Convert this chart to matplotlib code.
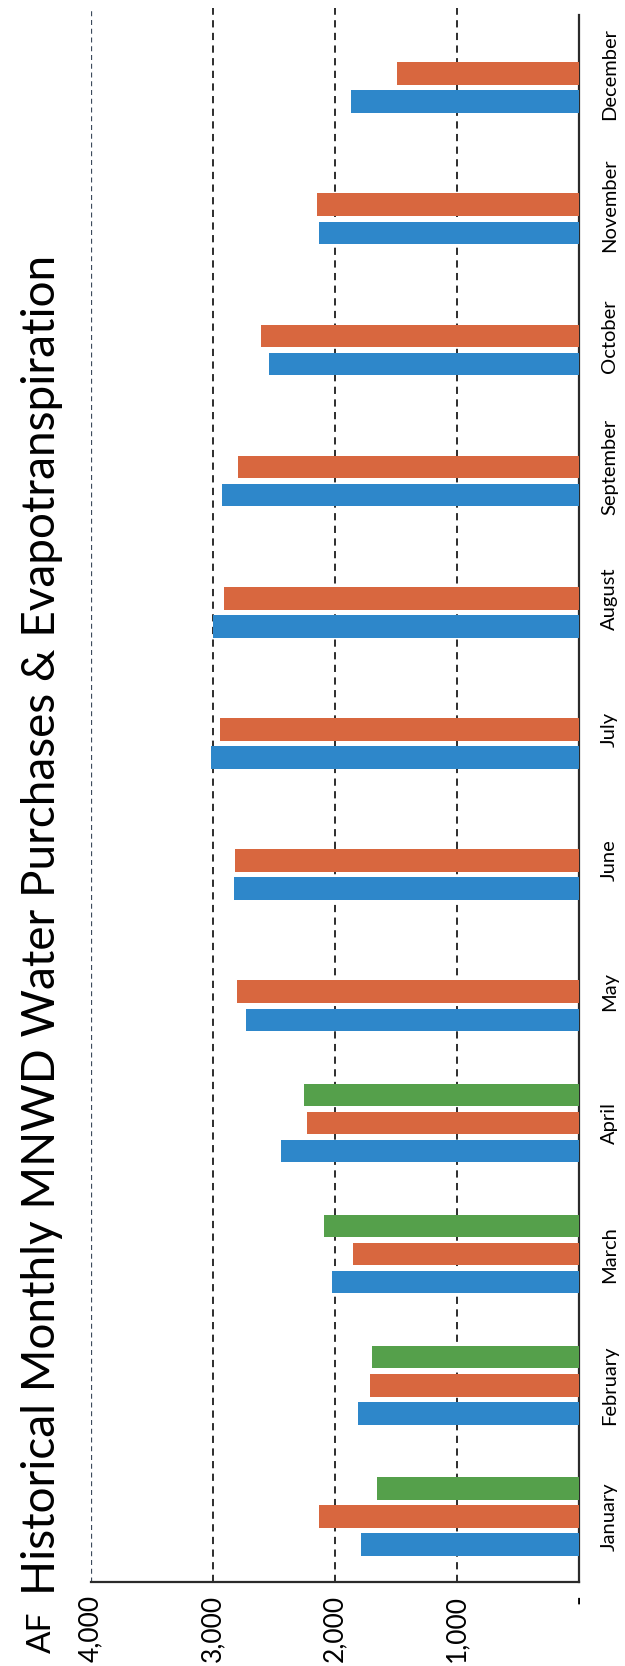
import numpy as np
import matplotlib.pyplot as plt

plt.rcParams['font.family'] = ['Lato', 'DejaVu Sans']

# monthly volumes in acre-feet
months = ['January', 'February', 'March', 'April', 'May', 'June',
          'July', 'August', 'September', 'October', 'November', 'December']
blue_af = [1785, 1808, 2022, 2440, 2731, 2826, 3014, 3000, 2923, 2541, 2130, 1868]
orange_af = [2134, 1712, 1849, 2231, 2807, 2821, 2943, 2910, 2792, 2609, 2145, 1488]
green_af = [1655, 1693, 2088, 2258]

value_ticks = [0, 1000, 2000, 3000, 4000]
value_labels = ['-', '1,000', '2,000', '3,000', '4,000']

title = 'Historical Monthly MNWD Water Purchases & Evapotranspiration'

blue = '#2E87CA'
orange = '#D8673F'
green = '#55A04B'
axis_col = '#2b2b2b'

bar_h = 0.172
step = 0.214

fig = plt.figure(figsize=(6.25, 16.66), dpi=100)
ax = fig.add_axes([0.1456, 0.0504, 0.7808, 0.9448])

pos = np.arange(len(months))
ax.barh(pos - step, blue_af, height=bar_h, color=blue, zorder=3)
ax.barh(pos, orange_af, height=bar_h, color=orange, zorder=3)
ax.barh(pos[:len(green_af)] + step, green_af, height=bar_h, color=green, zorder=3)

ax.set_xlim(4000, 0)
ax.set_ylim(-0.5, 11.5)

# dashed gridlines for the value axis, outer one a bit lighter
for v in value_ticks[1:]:
    if v == 4000:
        ax.axvline(v, color='#3c4a5c', lw=0.9, ls=(0, (4, 3)), zorder=1)
    else:
        ax.axvline(v, color='#1c1c1c', lw=1.3, ls=(0, (4, 3)), zorder=1)

ax.set_xticks(value_ticks)
ax.set_xticklabels(value_labels, rotation=90, fontsize=19, va='top', ha='center')
ax.tick_params(axis='x', length=0, pad=9)

ax.yaxis.tick_right()
ax.set_yticks(pos)
ax.set_yticklabels(months, rotation=90, fontsize=14.5, va='center', ha='left')
ax.tick_params(axis='y', length=0, pad=16)

for s in ['left', 'top']:
    ax.spines[s].set_visible(False)
ax.spines['right'].set_color(axis_col)
ax.spines['right'].set_linewidth(1.6)
ax.spines['right'].set_bounds(-0.5, 11.45)
ax.spines['bottom'].set_color(axis_col)
ax.spines['bottom'].set_linewidth(1.6)

fig.text(42 / 625, 1 - 1595 / 1666, title, rotation=90, fontsize=33,
         ha='center', va='bottom')
fig.text(42 / 625, 1 - 1632 / 1666, 'AF', rotation=90, fontsize=24,
         ha='center', va='center')

plt.savefig('out.png', dpi=100)
